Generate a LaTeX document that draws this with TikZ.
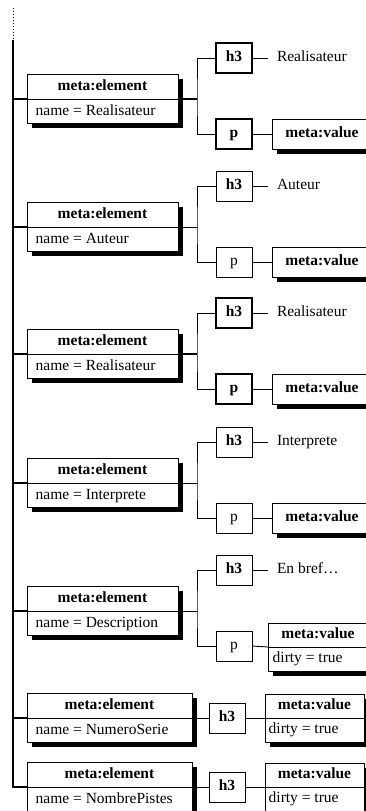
\documentclass[tikz,border=0pt]{standalone}
\usepackage{fontspec}
\setmainfont{Liberation Serif}
\usetikzlibrary{shadows}
\tikzset{
  txt/.style={font=\fontsize{15.5pt}{18pt}\selectfont, text height=10pt, text depth=3pt},
  btxt/.style={txt, font=\fontsize{15.5pt}{18pt}\selectfont\bfseries},
  boxframe/.style={draw, line width=0.9pt, fill=white, inner sep=0pt, outer sep=0pt},
  castshadow/.style={drop shadow={shadow xshift=4.5pt, shadow yshift=-4.5pt, opacity=1, fill=black}},
  elembox/.style={boxframe, castshadow, minimum height=49pt},
  valbox/.style={boxframe, castshadow, btxt, minimum width=100pt, minimum height=30pt, anchor=west},
  val2box/.style={boxframe, castshadow, minimum height=48pt},
  tagbox/.style={boxframe, minimum width=36pt, minimum height=30pt},
  tagbold/.style={tagbox, line width=1.8pt},
  lbl/.style={txt, anchor=west, inner xsep=9pt, inner ysep=0pt, outer sep=0pt},
  inl/.style={txt, anchor=west, inner sep=0pt},
  ctr/.style={btxt, inner sep=0pt},
  conn/.style={line width=0.9pt},
  connb/.style={line width=1.9pt},
}
\begin{document}
\begin{tikzpicture}[x=1pt,y=-1pt]
\useasboundingbox (0,0) rectangle (366,811);
\clip (0,0) rectangle (366,811);

% spine coordinates
\coordinate (top) at (13,8);
\coordinate (s0) at (13,40);
\coordinate (s1) at (13,99);
\coordinate (s2) at (13,227);
\coordinate (s3) at (13,354);
\coordinate (s4) at (13,483);
\coordinate (s5) at (13,611);
\coordinate (s6) at (13,718);
\coordinate (s7) at (13,787);

% ---------- group 1
\node[elembox, minimum width=151pt] (e1) at (102.5,99) {};
\node[ctr] (e1t) at (102.5,87) {meta:element};
\node[inl] (e1n) at (35.5,111.5) {name = Realisateur};
\node[tagbold, btxt] (h1) at (234,58) {h3};
\node[tagbold, btxt] (p1) at (234,134) {p};
\node[lbl] (l1) at (268,58) {Realisateur};
\node[valbox] (v1) at (272,134) {meta:value};
\coordinate (k1) at (197,99);

% ---------- group 2
\node[elembox, minimum width=151pt] (e2) at (102.5,227) {};
\node[ctr] (e2t) at (102.5,215) {meta:element};
\node[inl] (e2n) at (35.5,239.5) {name = Auteur};
\node[tagbox, btxt] (h2) at (234,186) {h3};
\node[tagbox, txt] (p2) at (234,262) {p};
\node[lbl] (l2) at (268,186) {Auteur};
\node[valbox] (v2) at (272,262) {meta:value};
\coordinate (k2) at (197,227);

% ---------- group 3
\node[elembox, minimum width=151pt] (e3) at (102.5,354) {};
\node[ctr] (e3t) at (102.5,342) {meta:element};
\node[inl] (e3n) at (35.5,366.5) {name = Realisateur};
\node[tagbold, btxt] (h3) at (234,313) {h3};
\node[tagbold, btxt] (p3) at (234,389) {p};
\node[lbl] (l3) at (268,313) {Realisateur};
\node[valbox] (v3) at (272,389) {meta:value};
\coordinate (k3) at (197,354);

% ---------- group 4
\node[elembox, minimum width=151pt] (e4) at (102.5,483) {};
\node[ctr] (e4t) at (102.5,471) {meta:element};
\node[inl] (e4n) at (35.5,495.5) {name = Interprete};
\node[tagbox, btxt] (h4) at (234,442) {h3};
\node[tagbox, txt] (p4) at (234,518) {p};
\node[lbl] (l4) at (268,442) {Interprete};
\node[valbox] (v4) at (272,518) {meta:value};
\coordinate (k4) at (197,483);

% ---------- group 5
\node[elembox, minimum width=151pt] (e5) at (102.5,611) {};
\node[ctr] (e5t) at (102.5,599) {meta:element};
\node[inl] (e5n) at (35.5,623.5) {name = Description};
\node[tagbox, btxt] (h5) at (234,570) {h3};
\node[tagbox, txt] (p5) at (234,646) {p};
\node[lbl] (l5) at (268,570) {En bref…};
\node[val2box, minimum width=100pt] (v5) at (318,647) {};
\node[ctr] (v5t) at (318,635) {meta:value};
\node[inl] (v5n) at (272.5,659) {dirty = true};
\coordinate (k5) at (197,611);

% ---------- group 6
\node[elembox, minimum width=165pt] (e6) at (109.5,718) {};
\node[ctr] (e6t) at (109.5,706) {meta:element};
\node[inl] (e6n) at (35.5,730.5) {name = NumeroSerie};
\node[tagbox, btxt] (h6) at (227,718) {h3};
\node[val2box, minimum width=99pt] (v6) at (314.5,718) {};
\node[ctr] (v6t) at (314.5,706) {meta:value};
\node[inl] (v6n) at (268.5,730) {dirty = true};

% ---------- group 7
\node[elembox, minimum width=165pt] (e7) at (109.5,787) {};
\node[ctr] (e7t) at (109.5,775) {meta:element};
\node[inl] (e7n) at (35.5,799.5) {name = NombrePistes};
\node[tagbox, btxt] (h7) at (227,787) {h3};
\node[val2box, minimum width=99pt] (v7) at (314.5,787) {};
\node[ctr] (v7t) at (314.5,775) {meta:value};
\node[inl] (v7n) at (268.5,799) {dirty = true};

% dividers
\foreach \i in {1,...,7} {\draw[conn] (e\i.west) -- (e\i.east);}
\foreach \i in {5,6,7} {\draw[conn] (v\i.west) -- (v\i.east);}

% spine
\draw[line width=1pt, dash pattern=on 1pt off 2pt] (top) -- (s0);
\draw[line width=2.7pt] (s0) -- (s6);
\draw[line width=1.4pt] (s6) -- (s7) -- (e7.west);

% branches from spine
\draw[connb] (s1) -- (e1.west);
\draw[connb] (s2) -- (e2.west);
\draw[connb] (s3) -- (e3.west);
\draw[line width=1.3pt] (s4) -- (e4.west);
\draw[line width=1.3pt] (s5) -- (e5.west);
\draw[line width=1.3pt] (s6) -- (e6.west);

% brackets
\draw[connb] (e1.east) -- (k1);
\draw[conn] (h1.west) -| (k1) |- (p1.west);
\draw[conn] (e2.east) -- (k2);
\draw[conn] (h2.west) -| (k2) |- (p2.west);
\draw[connb] (e3.east) -- (k3);
\draw[conn] (h3.west) -| (k3) |- (p3.west);
\draw[conn] (e4.east) -- (k4);
\draw[conn] (h4.west) -| (k4) |- (p4.west);
\draw[conn] (e5.east) -- (k5);
\draw[conn] (h5.west) -| (k5) |- (p5.west);
\draw[conn] (e6.east) -- (h6.west);
\draw[conn] (e7.east) -- (h7.west);

% tag to label / value
\foreach \i in {1,...,5} {
  \draw[conn] (h\i.east) -- (l\i.west);
  \draw[conn] (p\i.east) -- (v\i.west);
}
\draw[conn] (h6.east) -- (v6.west);
\draw[conn] (h7.east) -- (v7.west);
\end{tikzpicture}
\end{document}
